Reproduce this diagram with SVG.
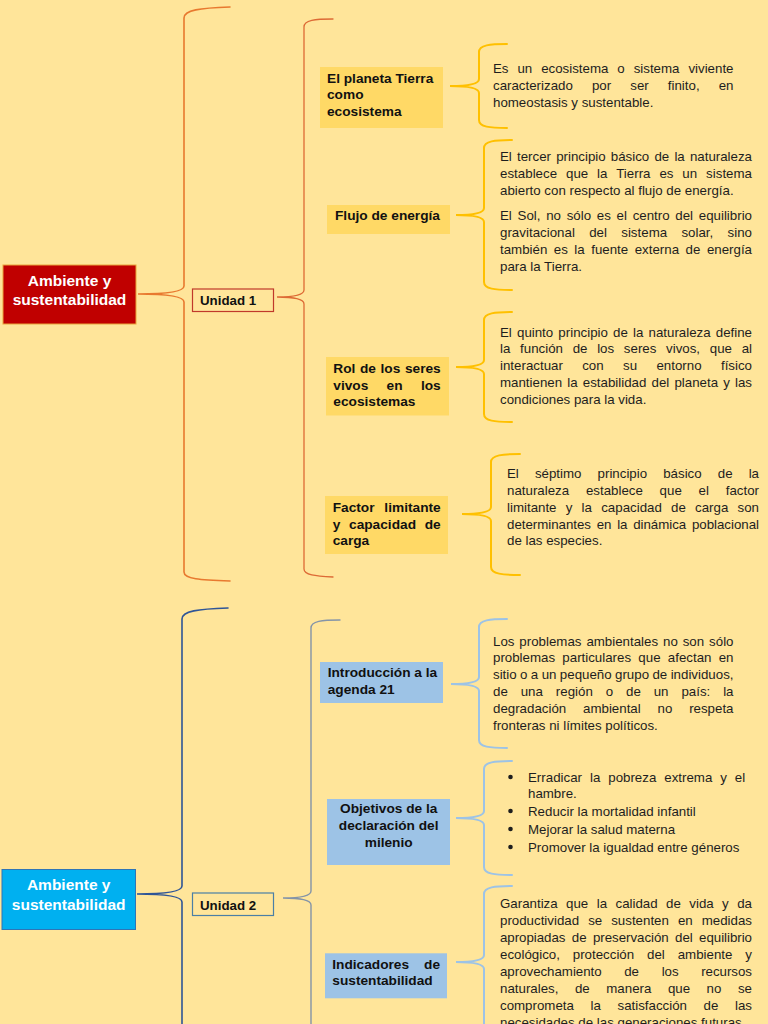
<svg xmlns="http://www.w3.org/2000/svg" width="768" height="1024" viewBox="0 0 768 1024">
<style>
.t{font-family:"Liberation Sans",Arial,sans-serif;font-size:13.3px;fill:#1e1e1e}
.b{font-family:"Liberation Sans",Arial,sans-serif;font-size:13.7px;font-weight:bold;fill:#111}
.u{font-family:"Liberation Sans",Arial,sans-serif;font-size:13.3px;font-weight:bold;fill:#111}
.w{font-family:"Liberation Sans",Arial,sans-serif;font-size:15.5px;font-weight:bold;fill:#fff;text-anchor:middle}
.c{text-anchor:middle}
.br{fill:none;stroke-linecap:round}
.o1{stroke:#E8792F;stroke-width:1.6}
.o2{stroke:#DD6A35;stroke-width:1.3}
.g{stroke:#FFC000;stroke-width:2}
.d1{stroke:#2F5597;stroke-width:1.6}
.d2{stroke:#8494A8;stroke-width:1.4}
.lb{stroke:#9DC3E6;stroke-width:2}
.yn{fill:#FFD966}
.bn{fill:#9DC3E6}
</style>
<rect width="768" height="1024" fill="#FFE59A"/>
<g id="connectors">
<path class="br o1" d="M230,7 C200,8 184,10 184,18 L184,286 C184,292 165,294 138,294 C165,294 184,296 184,302 L184,572 C184,579 200,580 230,581"/>
<path class="br o2" d="M333,19 C315,19 304,20 304,27 L304,290 C304,295 292,297 277,297 C292,297 304,299 304,304 L304,569 C304,575 315,576 333,577"/>
<path class="br g" d="M507,44 C490,44 479,45 479,52 L479,79 C479,84 467,86 450,86 C467,86 479,88 479,93 L479,120 C479,127 490,128 507,128"/>
<path class="br g" d="M512,140 C495,140 484,141 484,148 L484,208 C484,213 472,215 456,215 C472,215 484,217 484,222 L484,282 C484,289 495,290 512,290"/>
<path class="br g" d="M512,312 C495,312 484,313 484,320 L484,360 C484,365 472,367 456,367 C472,367 484,369 484,374 L484,414 C484,421 495,422 512,422"/>
<path class="br g" d="M520,454 C503,454 491,455 491,462 L491,507 C491,512 479,514 462,514 C479,514 491,516 491,521 L491,567 C491,574 503,575 520,575"/>
<path class="br d1" d="M228,608 C198,609 182,611 182,619 L182,886 C182,892 163,894 137,894 C163,894 182,896 182,902 L182,1040"/>
<path class="br d2" d="M340,620 C322,620 311,621 311,628 L311,891 C311,896 299,898 283,898 C299,898 311,900 311,905 L311,1040"/>
<path class="br lb" d="M507,619 C490,619 479,620 479,627 L479,677 C479,682 467,684 451,684 C467,684 479,686 479,691 L479,740 C479,747 490,748 507,748"/>
<path class="br lb" d="M512,761 C495,761 484,762 484,769 L484,811 C484,816 472,818 456,818 C472,818 484,820 484,825 L484,867 C484,874 495,875 512,875"/>
<path class="br lb" d="M512,886 C495,886 484,887 484,894 L484,955 C484,960 472,962 456,962 C472,962 484,964 484,969 L484,1040"/>
</g>
<g id="root1">
<rect x="3" y="265" width="133" height="59" fill="#C00000" stroke="#E9A33B" stroke-width="1"/>
<text class="w" x="69.5" y="285.5">Ambiente y</text>
<text class="w" x="69.5" y="304.5">sustentabilidad</text>
</g>
<g id="unidad1">
<rect x="192.5" y="289" width="81" height="22.5" fill="none" stroke="#C0392B" stroke-width="1.2"/>
<text class="u" x="200" y="305">Unidad 1</text>
</g>
<g id="n-planeta">
<rect class="yn" x="320" y="67" width="123" height="61"/>
<text class="b" x="327" y="82.7">El planeta Tierra</text>
<text class="b" x="327" y="99.3">como</text>
<text class="b" x="327" y="116">ecosistema</text>
</g>
<g id="t-planeta">
<text class="t" x="493" y="73.3" word-spacing="5.22" textLength="240.5" lengthAdjust="spacing">Es un ecosistema o sistema viviente</text>
<text class="t" x="493" y="90.2" word-spacing="15.4" textLength="240.5" lengthAdjust="spacing">caracterizado por ser finito, en</text>
<text class="t" x="493" y="107">homeostasis y sustentable.</text>
</g>
<g id="n-flujo">
<rect class="yn" x="327" y="205" width="123" height="29"/>
<text class="b" x="335" y="219.5">Flujo de energía</text>
</g>
<g id="t-flujo">
<text class="t" x="500" y="160.7" word-spacing="1.47" textLength="252" lengthAdjust="spacing">El tercer principio básico de la naturaleza</text>
<text class="t" x="500" y="177.6" word-spacing="5.17" textLength="252" lengthAdjust="spacing">establece que la Tierra es un sistema</text>
<text class="t" x="500" y="194.5">abierto con respecto al flujo de energía.</text>
<text class="t" x="500" y="220" word-spacing="2.03" textLength="252" lengthAdjust="spacing">El Sol, no sólo es el centro del equilibrio</text>
<text class="t" x="500" y="237" word-spacing="10.53" textLength="252" lengthAdjust="spacing">gravitacional del sistema solar, sino</text>
<text class="t" x="500" y="253.7" word-spacing="2.82" textLength="252" lengthAdjust="spacing">también es la fuente externa de energía</text>
<text class="t" x="500" y="270.5">para la Tierra.</text>
</g>
<g id="n-rol">
<rect class="yn" x="326" y="357" width="123" height="58.5"/>
<text class="b" x="333.3" y="372.7" word-spacing="0.78" textLength="107.4" lengthAdjust="spacing">Rol de los seres</text>
<text class="b" x="333.3" y="390" word-spacing="14.5" textLength="107.4" lengthAdjust="spacing">vivos en los</text>
<text class="b" x="333.3" y="406.3">ecosistemas</text>
</g>
<g id="t-rol">
<text class="t" x="500" y="336.7" word-spacing="1.47" textLength="252" lengthAdjust="spacing">El quinto principio de la naturaleza define</text>
<text class="t" x="500" y="353.3" word-spacing="6" textLength="252" lengthAdjust="spacing">la función de los seres vivos, que al</text>
<text class="t" x="500" y="370" word-spacing="15.68" textLength="252" lengthAdjust="spacing">interactuar con su entorno físico</text>
<text class="t" x="500" y="386.7" word-spacing="1.47" textLength="252" lengthAdjust="spacing">mantienen la estabilidad del planeta y las</text>
<text class="t" x="500" y="403.5">condiciones para la vida.</text>
</g>
<g id="n-factor">
<rect class="yn" x="325" y="496" width="123" height="58"/>
<text class="b" x="332.7" y="511.7" word-spacing="6" textLength="108" lengthAdjust="spacing">Factor limitante</text>
<text class="b" x="332.7" y="528.7" word-spacing="4.9" textLength="108" lengthAdjust="spacing">y capacidad de</text>
<text class="b" x="332.7" y="545">carga</text>
</g>
<g id="t-factor">
<text class="t" x="507" y="478.3" word-spacing="12.4" textLength="252" lengthAdjust="spacing">El séptimo principio básico de la</text>
<text class="t" x="507" y="495" word-spacing="13.1" textLength="252" lengthAdjust="spacing">naturaleza establece que el factor</text>
<text class="t" x="507" y="512" word-spacing="5.53" textLength="252" lengthAdjust="spacing">limitante y la capacidad de carga son</text>
<text class="t" x="507" y="528.7" word-spacing="2.03" textLength="252" lengthAdjust="spacing">determinantes en la dinámica poblacional</text>
<text class="t" x="507" y="545.3">de las especies.</text>
</g>
<g id="root2">
<rect x="2" y="869.5" width="133.5" height="60" fill="#00B0F0" stroke="#2E75B6" stroke-width="1"/>
<text class="w" x="68.7" y="890">Ambiente y</text>
<text class="w" x="68.7" y="909.5">sustentabilidad</text>
</g>
<g id="unidad2">
<rect x="192.5" y="893" width="81" height="22.5" fill="none" stroke="#4A7FA6" stroke-width="1.2"/>
<text class="u" x="200" y="909.5">Unidad 2</text>
</g>
<g id="n-agenda">
<rect class="bn" x="320" y="662" width="123" height="41"/>
<text class="b" x="327.7" y="676.7">Introducción a la</text>
<text class="b" x="327.7" y="694">agenda 21</text>
</g>
<g id="t-agenda">
<text class="t" x="493" y="645.7" word-spacing="1.24" textLength="240.5" lengthAdjust="spacing">Los problemas ambientales no son sólo</text>
<text class="t" x="493" y="662.4" word-spacing="3.58" textLength="240.5" lengthAdjust="spacing">problemas particulares que afectan en</text>
<text class="t" x="493" y="679.3" word-spacing="-0.28" textLength="240.5" lengthAdjust="spacing">sitio o a un pequeño grupo de individuos,</text>
<text class="t" x="493" y="696" word-spacing="9.22" textLength="240.5" lengthAdjust="spacing">de una región o de un país: la</text>
<text class="t" x="493" y="713" word-spacing="13.14" textLength="240.5" lengthAdjust="spacing">degradación ambiental no respeta</text>
<text class="t" x="493" y="730">fronteras ni límites políticos.</text>
</g>
<g id="n-objetivos">
<rect class="bn" x="327" y="799" width="123" height="66"/>
<text class="b c" x="388.7" y="813.3">Objetivos de la</text>
<text class="b c" x="388.7" y="830.3">declaración del</text>
<text class="b c" x="388.7" y="847">milenio</text>
</g>
<g id="t-objetivos">
<circle cx="510.5" cy="777" r="2.3" fill="#1e1e1e"/>
<circle cx="510.5" cy="811" r="2.3" fill="#1e1e1e"/>
<circle cx="510.5" cy="829" r="2.3" fill="#1e1e1e"/>
<circle cx="510.5" cy="847" r="2.3" fill="#1e1e1e"/>
<text class="t" x="528" y="781.7" word-spacing="4.22" textLength="217.2" lengthAdjust="spacing">Erradicar la pobreza extrema y el</text>
<text class="t" x="528" y="798.4">hambre.</text>
<text class="t" x="528" y="815.7">Reducir la mortalidad infantil</text>
<text class="t" x="528" y="833.5">Mejorar la salud materna</text>
<text class="t" x="528" y="851.5">Promover la igualdad entre géneros</text>
</g>
<g id="n-indicadores">
<rect class="bn" x="325" y="953.3" width="122" height="45"/>
<text class="b" x="332.3" y="969.3" word-spacing="11.2" textLength="107.7" lengthAdjust="spacing">Indicadores de</text>
<text class="b" x="332.3" y="985">sustentabilidad</text>
</g>
<g id="t-indicadores">
<text class="t" x="500" y="908.3" word-spacing="4.75" textLength="252" lengthAdjust="spacing">Garantiza que la calidad de vida y da</text>
<text class="t" x="500" y="925.2" word-spacing="5.33" textLength="252" lengthAdjust="spacing">productividad se sustenten en medidas</text>
<text class="t" x="500" y="942" word-spacing="2.75" textLength="252" lengthAdjust="spacing">apropiadas de preservación del equilibrio</text>
<text class="t" x="500" y="959" word-spacing="9.23" textLength="252" lengthAdjust="spacing">ecológico, protección del ambiente y</text>
<text class="t" x="500" y="976" word-spacing="18.97" textLength="252" lengthAdjust="spacing">aprovechamiento de los recursos</text>
<text class="t" x="500" y="992.7" word-spacing="12.84" textLength="252" lengthAdjust="spacing">naturales, de manera que no se</text>
<text class="t" x="500" y="1009.8" word-spacing="12.92" textLength="252" lengthAdjust="spacing">comprometa la satisfacción de las</text>
<text class="t" x="500" y="1027">necesidades de las generaciones futuras.</text>
</g>
</svg>
